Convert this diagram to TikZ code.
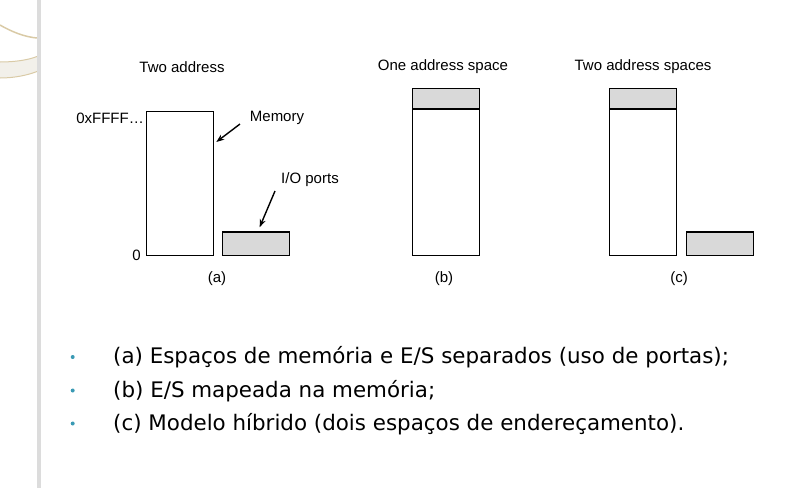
\documentclass[tikz,border=0pt]{standalone}
\usepackage{fontspec}
\setmainfont{DejaVu Sans}
\newfontfamily\figfont{Liberation Sans}
\usetikzlibrary{positioning,arrows.meta}
\definecolor{portgray}{HTML}{D9D9D9}
\definecolor{railgray}{HTML}{DCDCDC}
\definecolor{swooshtan}{HTML}{D9CAA6}
\definecolor{swooshfill}{HTML}{F2F0EA}
\definecolor{dotteal}{HTML}{3A9AB4}

\begin{document}
\begin{tikzpicture}[x=1pt,y=-1pt,
  block/.style={draw, line width=1.3pt, minimum width=67pt, inner sep=0pt, anchor=north west},
  port/.style={block, fill=portgray, minimum height=23.5pt},
  lbl/.style={font=\figfont\fontsize{15}{17}\selectfont, inner sep=0pt},
  arr/.style={-{Stealth[length=8pt,width=6pt]}, line width=1.4pt},
  item/.style={font=\fontsize{21.4}{25}\selectfont, anchor=west, inner sep=0pt},
  dot/.style={circle, fill=dotteal, inner sep=0pt, minimum size=4pt}]
\useasboundingbox (0,0) rectangle (785,488);
\fill[swooshfill] (0,62) .. controls (15,62) and (28,60) .. (37,56.5) -- (37,71.5) .. controls (28,75) and (15,78) .. (0,78) -- cycle;
\draw[swooshtan, line width=1pt] (0,62) .. controls (15,62) and (28,60) .. (37,56.5);
\draw[swooshtan, line width=1pt] (0,78) .. controls (15,78) and (28,75) .. (37,71.5);
\draw[swooshtan, line width=1.5pt] (0,25) .. controls (12,32) and (25,37) .. (37,38);
\fill[railgray] (36.5,0) rectangle (40.5,488);

\node[block, minimum height=143.5pt] (mema) at (146,111) {};
\node[port] (ioa) at (222,231.2) {};
\node[block, minimum height=167pt] (memb) at (411.5,87.7) {};
\node[port, minimum height=20.6pt] (topb) at (411.5,87.7) {};
\node[block, minimum height=167pt] (memc) at (609,87.7) {};
\node[port, minimum height=20.6pt] (topc) at (609,87.7) {};
\node[port] (ioc) at (685.5,231.2) {};

\node[lbl] (titlea) at (182,67) {Two address};
\node[lbl] (titleb) at (443,67) {One address space};
\node[lbl] (titlec) at (643,67) {Two address spaces};
\node[lbl, anchor=east] (hi) at (144,118) {0xFFFF…};
\node[lbl, anchor=east] (lo) at (141,255) {0};
\node[lbl] (memlbl) at (277,118) {Memory};
\node[lbl] (iolbl) at (310,180) {I/O ports};
\node[lbl] (capa) at (217,279) {(a)};
\node[lbl] (capb) at (444,279) {(b)};
\node[lbl] (capc) at (679,279) {(c)};

\coordinate (memtail) at (240,124);
\coordinate (iotail) at (275,191);
\draw[arr] (memtail) -- ([xshift=2pt,yshift=-31pt]mema.north east);
\draw[arr] (iotail) -- ([xshift=3.5pt,yshift=4pt]ioa.north);

\node[dot] (d1) at (72.7,357) {};
\node[dot] (d2) at (72.7,390.5) {};
\node[dot] (d3) at (72.7,423.5) {};
\node[item] (i1) at (113,357.5) {(a) Espaços de memória e E/S separados (uso de portas);};
\node[item] (i2) at (113,391) {(b) E/S mapeada na memória;};
\node[item] (i3) at (113,424) {(c) Modelo híbrido (dois espaços de endereçamento).};
\end{tikzpicture}
\end{document}
